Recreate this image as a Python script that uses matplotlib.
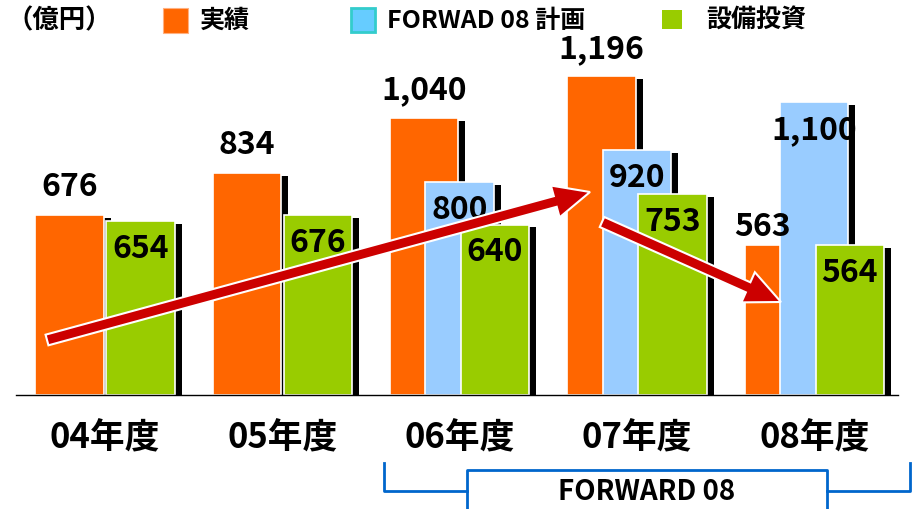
import numpy as np
import matplotlib.pyplot as plt
from matplotlib.patches import Rectangle, FancyArrow

plt.rcParams['font.family'] = ['Noto Sans CJK JP', 'DejaVu Sans']

# data
years = ["04年度", "05年度", "06年度", "07年度", "08年度"]
actual = [676, 834, 1040, 1196, 563]          # 実績
plan = [None, None, 800, 920, 1100]           # FORWAD 08 計画
capex = [654, 676, 640, 753, 564]             # 設備投資

c_act = "#FF6600"
c_plan = "#99CCFF"
c_cap = "#99CC00"

fig = plt.figure(figsize=(9.16, 5.09), dpi=100)
ax = fig.add_axes([0, 0, 1, 1])
ax.set_xlim(-0.592, 4.574)
ax.set_ylim(-428, 1483)
ax.axis("off")

w = 0.385        # bar width
off = 0.2        # bar offset inside a group
sdx = 0.0395     # shadow shift x
sdy = 11         # shadow shift y

x = np.arange(len(years))


def draw(xs, vals, color, label_pos):
    for xi, v in zip(xs, vals):
        if v is None:
            continue
        ax.bar(xi + sdx, v - sdy, width=w, color="black", zorder=2)
        ax.bar(xi, v, width=w, color=color, edgecolor="white", linewidth=1.2, zorder=2)
        dy = 20 if label_pos == "above" else -20
        ax.annotate(f"{v:,}", (xi, v), xytext=(0, dy), textcoords="offset points",
                    ha="center", va="center", fontsize=23, fontweight="bold", zorder=5)


# orange first, then blue, then green (each covers the previous one)
for xi, v in zip(x - off, actual):
    ax.bar(xi + sdx, v - sdy, width=w, color="black", zorder=2)
    ax.bar(xi, v, width=w, color=c_act, edgecolor="white", linewidth=1.2, zorder=2)
    dx, dy = (0, 20) if v != 563 else (-12, 13)
    ax.annotate(f"{v:,}", (xi, v), xytext=(dx, dy), textcoords="offset points",
                ha="center", va="center", fontsize=23, fontweight="bold", zorder=5)
draw(x, plan, c_plan, "inside")
draw(x + off, capex, c_cap, "inside")

ax.axhline(0, xmin=16 / 916, xmax=898 / 916, color="black", linewidth=1, zorder=3)

for xi, name in zip(x, years):
    ax.annotate(name, (xi, 0), xytext=(0, -31), textcoords="offset points",
                ha="center", va="center", fontsize=25, fontweight="bold")

# overlay in pixel coords for arrows, legend, bracket
ov = fig.add_axes([0, 0, 1, 1])
ov.set_xlim(0, 916)
ov.set_ylim(509, 0)
ov.axis("off")
ov.patch.set_alpha(0)

for (x0, y0, x1, y1) in [(47, 340, 590, 192), (602, 222, 781, 302)]:
    ov.add_patch(FancyArrow(x0, y0, x1 - x0, y1 - y0, width=11, head_width=33,
                            head_length=36, length_includes_head=True,
                            facecolor="#CC0000", edgecolor="white", linewidth=1.5))

# legend
ov.text(6, 21, "（億円）", fontsize=19, fontweight="bold", va="center", ha="left")
ov.add_patch(Rectangle((163, 8), 25, 25, facecolor=c_act, edgecolor="#FFB080", linewidth=0.8))
ov.text(200, 21, "実績", fontsize=18, fontweight="bold", va="center", ha="left")
ov.add_patch(Rectangle((351, 8), 24, 24, facecolor="#66CCFF", edgecolor="#33CCCC", linewidth=2))
ov.text(387, 21, "FORWAD 08 計画", fontsize=18, fontweight="bold", va="center", ha="left")
ov.add_patch(Rectangle((662, 10), 20, 19, facecolor=c_cap, edgecolor="none"))
ov.text(706, 21, "設備投資", fontsize=18, fontweight="bold", va="center", ha="left")

# FORWARD 08 bracket
bc = "#0066CC"
ov.plot([384, 384, 467], [463, 491, 491], color=bc, linewidth=2)
ov.plot([467, 467, 827, 827], [512, 470, 470, 512], color=bc, linewidth=2)
ov.plot([827, 910, 910], [491, 491, 463], color=bc, linewidth=2)
ov.text(647, 492, "FORWARD 08", fontsize=20, ha="center", va="center", fontweight="bold")

fig.savefig("out.png", dpi=100)
